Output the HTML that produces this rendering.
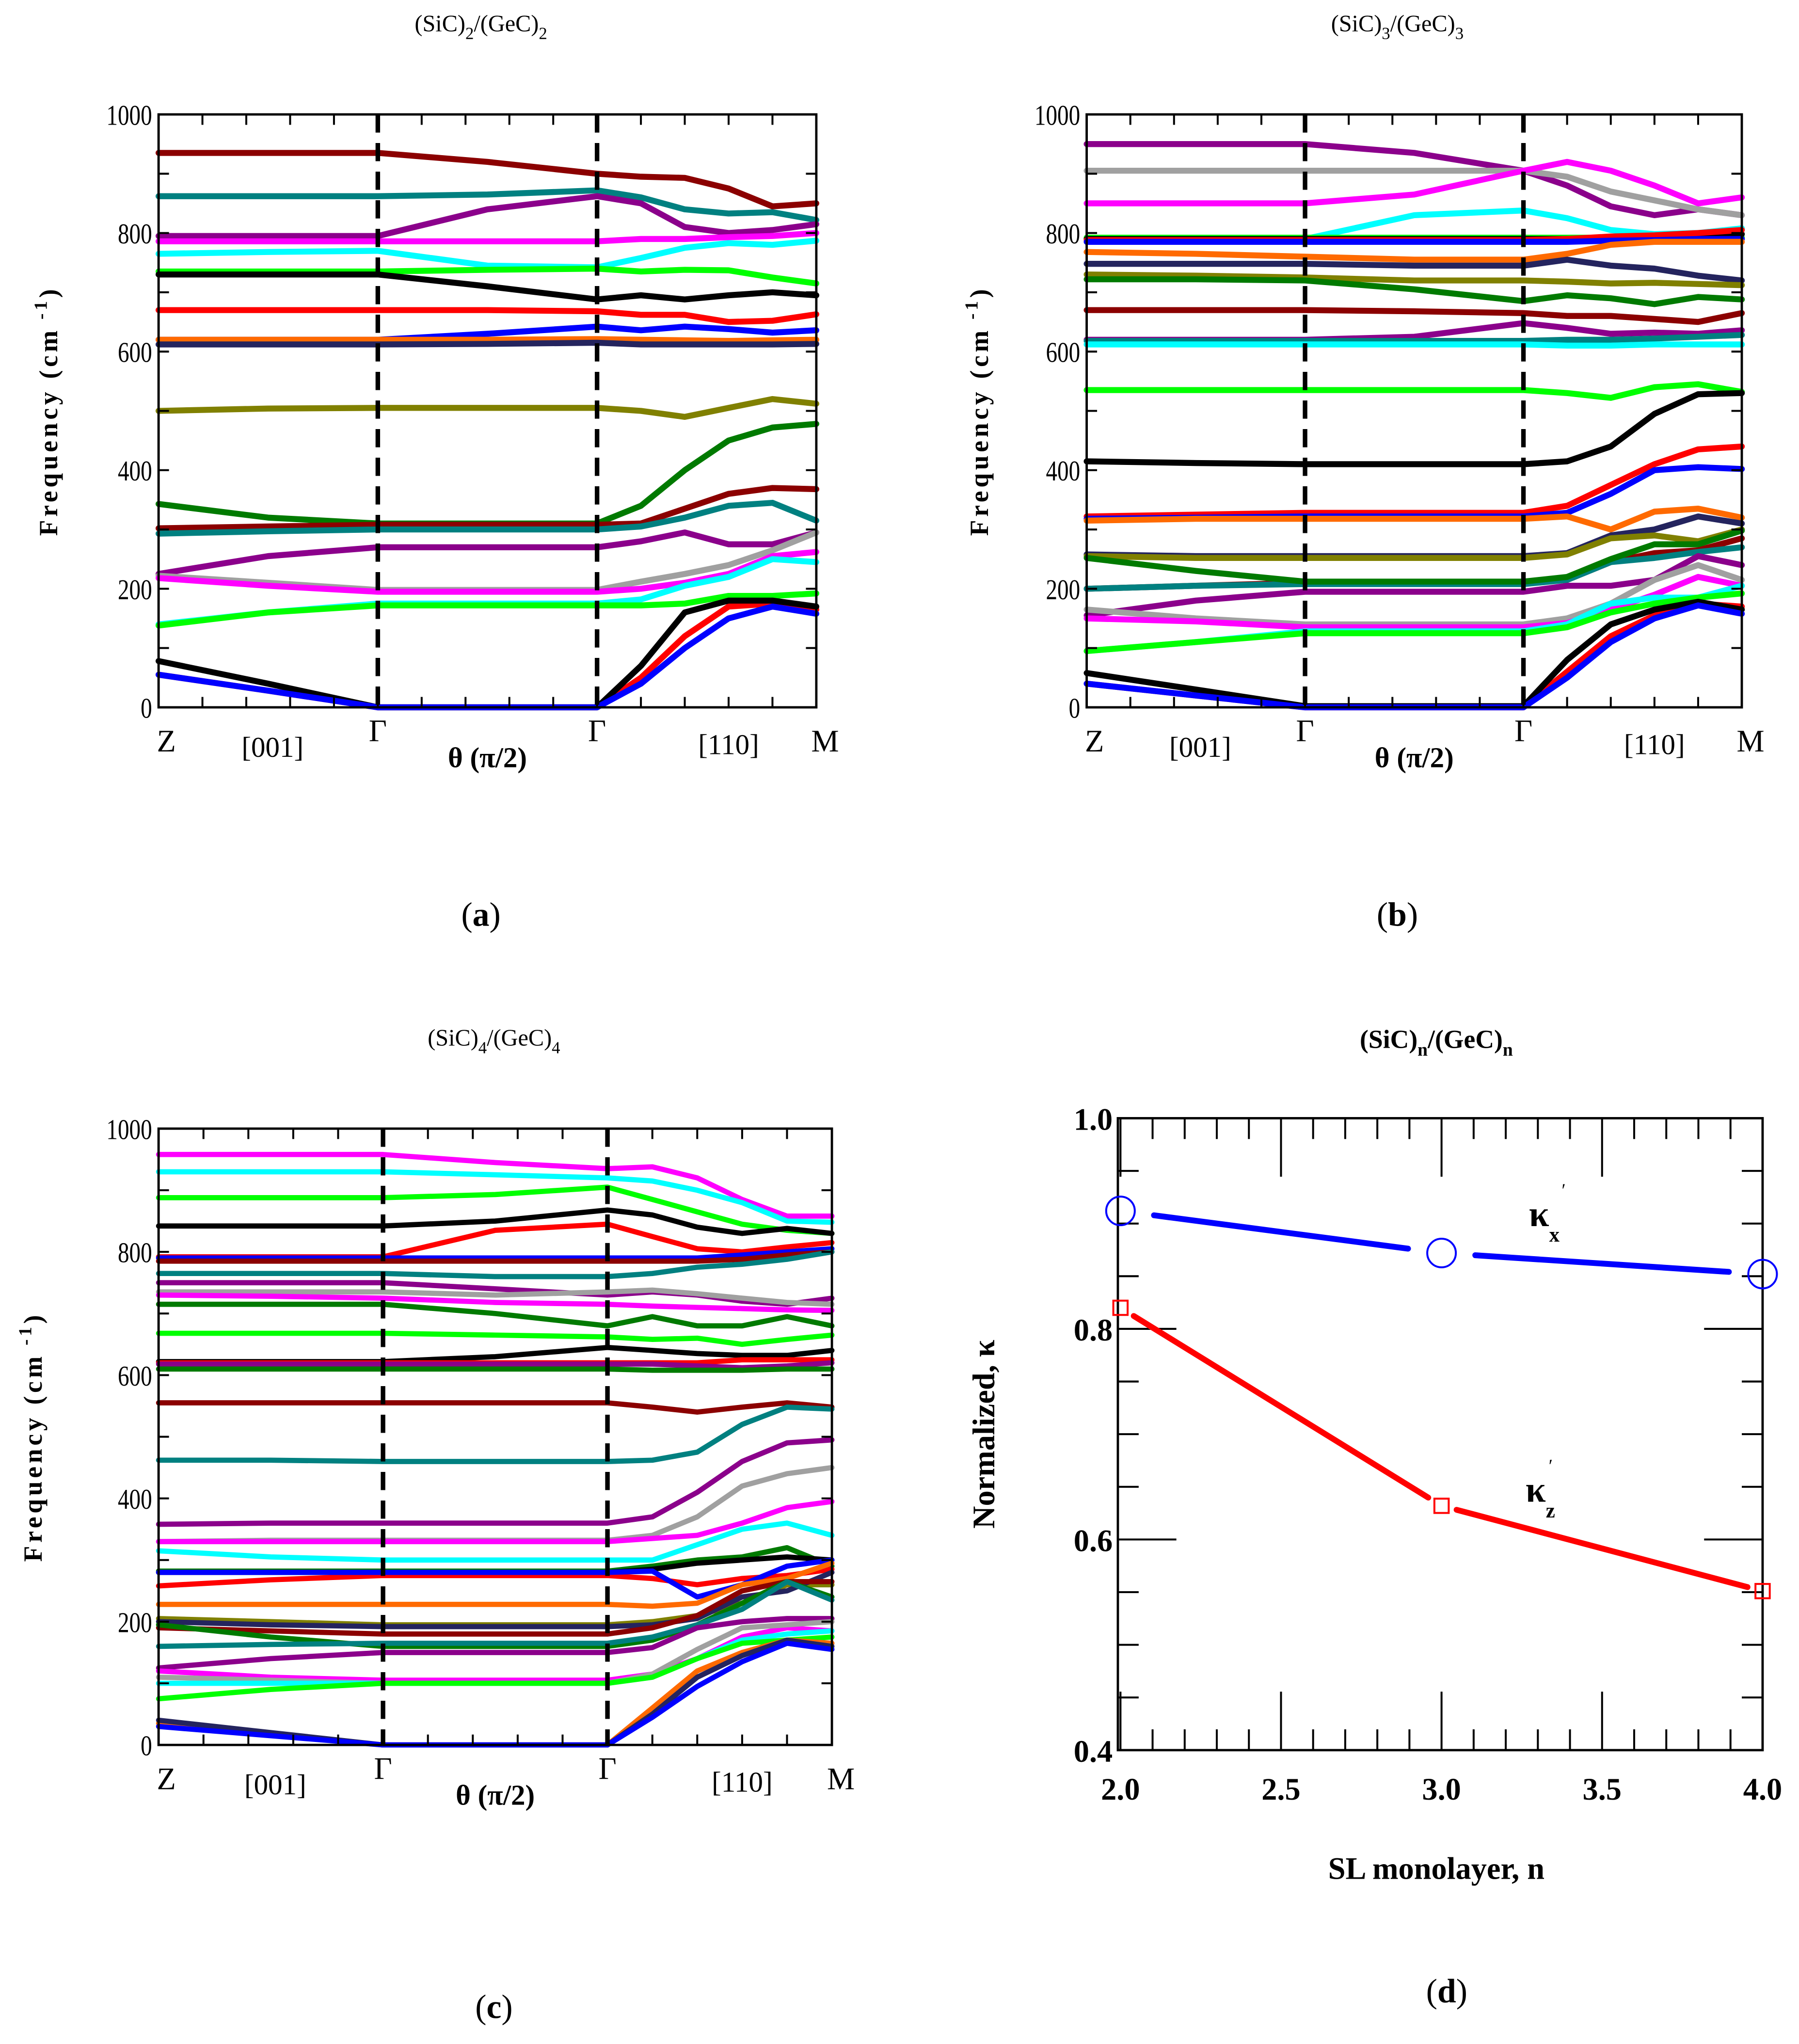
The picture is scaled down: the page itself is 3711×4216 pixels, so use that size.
<!DOCTYPE html>
<html><head><meta charset="utf-8">
<style>
html,body{margin:0;padding:0;background:#fff;}
svg{display:block;}
text{font-family:"Liberation Serif",serif;fill:#000;}
</style></head>
<body>
<svg id="fig" width="3711" height="4216" viewBox="0 0 1384 1572" preserveAspectRatio="none" xmlns="http://www.w3.org/2000/svg">
<rect width="1384" height="1572" fill="#fff"/>
</svg>
<script>
// shared sample positions along path (0..1 Z-Γ, 1..2 θ, 2..3 Γ-M)
const tSamples = [0,0.5,1,1.5,2,2.2,2.4,2.6,2.8,3];
const C = {dr:'#8b0000',tl:'#008080',pu:'#8b008b',mg:'#ff00ff',cy:'#00ffff',gr:'#00ff00',bk:'#000',rd:'#ff0000',bl:'#0000ff',or:'#ff6a00',nv:'#24245e',ol:'#808000',dg:'#007a00',gy:'#a0a0a0'};

const bandsA = [
 ['dr',[935,935,935,920,900,895,893,875,845,850]],
 ['tl',[862,862,862,865,872,860,840,833,835,822]],
 ['pu',[795,795,795,840,862,850,810,800,805,815]],
 ['mg',[786,786,786,786,786,790,790,793,795,800]],
 ['cy',[765,768,770,745,742,758,775,783,780,787]],
 ['gr',[735,735,735,738,740,735,738,737,725,715]],
 ['bk',[730,730,730,710,688,695,688,695,700,695]],
 ['rd',[670,670,670,670,668,662,662,650,652,663]],
 ['bl',[620,620,620,630,642,636,642,638,632,636]],
 ['or',[620,620,620,620,621,620,619,618,619,620]],
 ['nv',[612,612,612,613,615,612,612,612,612,613]],
 ['ol',[500,504,505,505,505,500,490,505,520,512]],
 ['dg',[343,320,310,310,310,340,400,450,472,478]],
 ['dr',[302,305,308,308,308,310,335,360,370,368]],
 ['tl',[293,297,300,300,300,305,320,340,345,315]],
 ['pu',[225,255,270,270,270,280,295,275,275,295]],
 ['gy',[222,210,198,198,198,212,225,240,265,295]],
 ['mg',[218,205,195,195,195,200,210,225,255,262]],
 ['cy',[140,160,175,175,175,182,205,220,250,245]],
 ['gr',[138,160,172,172,172,172,175,188,188,192]],
 ['rd',[55,28,0,0,0,50,120,170,175,165]],
 ['bk',[78,40,0,0,0,70,160,180,180,170]],
 ['bl',[55,28,0,0,0,40,100,150,170,158]]
];
const bandsB = [
 ['pu',[950,950,950,935,905,880,845,830,840,830]],
 ['gy',[905,905,905,905,905,895,870,855,840,830]],
 ['mg',[850,850,850,865,905,920,905,880,850,860]],
 ['cy',[790,790,790,830,838,825,805,798,800,808]],
 ['gr',[792,792,792,792,792,792,792,792,792,792]],
 ['bk',[790,790,790,790,790,790,792,794,796,798]],
 ['rd',[788,788,788,788,788,790,794,796,800,805]],
 ['bl',[785,785,785,785,785,785,787,788,790,790]],
 ['or',[768,765,760,755,755,765,780,785,785,785]],
 ['nv',[748,748,748,745,745,755,745,740,728,720]],
 ['ol',[730,728,725,720,720,718,715,716,714,712]],
 ['dg',[722,722,720,705,685,695,690,680,692,688]],
 ['dr',[670,670,670,668,665,660,660,655,650,665]],
 ['pu',[620,620,620,625,648,640,630,632,630,636]],
 ['tl',[618,618,618,618,618,620,620,622,625,628]],
 ['cy',[612,612,612,612,612,610,610,612,612,612]],
 ['gr',[535,535,535,535,535,530,522,540,545,532]],
 ['bk',[415,412,410,410,410,415,440,495,528,530]],
 ['rd',[322,325,328,328,328,340,375,410,435,440]],
 ['bl',[318,320,322,322,322,328,360,400,405,402]],
 ['or',[315,318,318,318,318,322,300,330,335,320]],
 ['nv',[258,255,255,255,255,260,290,300,322,310]],
 ['ol',[255,252,252,252,252,258,285,290,280,300]],
 ['dr',[200,205,210,210,210,215,245,260,265,285]],
 ['tl',[200,205,208,208,208,215,245,252,262,270]],
 ['dg',[252,230,212,212,212,220,250,275,275,298]],
 ['pu',[155,180,195,195,195,205,205,215,255,240]],
 ['gy',[165,150,140,140,140,150,175,215,240,215]],
 ['mg',[150,145,135,135,135,142,165,190,220,205]],
 ['cy',[95,110,128,128,128,140,175,185,185,205]],
 ['gr',[95,110,125,125,125,135,160,175,185,192]],
 ['rd',[40,20,0,0,0,60,120,155,175,170]],
 ['bk',[58,30,2,2,2,80,140,165,178,165]],
 ['bl',[40,20,0,0,0,50,110,150,172,158]]
];
const bandsC = [
 ['mg',[958,958,958,945,935,938,920,885,858,858]],
 ['cy',[930,930,930,925,920,915,900,880,850,848]],
 ['gr',[888,888,888,893,905,885,865,845,835,830]],
 ['bk',[842,842,842,850,868,860,840,830,838,830]],
 ['rd',[792,792,792,835,845,825,805,800,808,815]],
 ['bl',[790,790,790,790,790,790,790,795,800,805]],
 ['dr',[785,785,785,785,785,785,785,788,795,800]],
 ['tl',[765,765,765,760,760,765,775,780,788,800]],
 ['pu',[750,750,750,740,730,735,730,720,715,725]],
 ['gy',[735,735,735,730,735,738,732,725,718,715]],
 ['mg',[730,728,725,718,715,712,710,708,706,705]],
 ['dg',[715,715,715,700,680,695,680,680,695,680]],
 ['gr',[668,668,668,665,662,658,660,650,658,665]],
 ['bk',[622,622,622,630,645,640,635,632,632,640]],
 ['rd',[620,620,620,620,620,620,620,625,625,625]],
 ['pu',[618,618,618,618,618,618,615,612,615,620]],
 ['dg',[610,610,610,610,610,608,608,608,610,610]],
 ['dr',[555,555,555,555,555,548,540,548,555,548]],
 ['tl',[462,462,460,460,460,462,475,520,548,545]],
 ['pu',[358,360,360,360,360,370,410,460,490,495]],
 ['gy',[330,332,332,332,332,340,370,420,440,450]],
 ['mg',[330,330,330,330,330,335,340,360,385,395]],
 ['cy',[315,305,300,300,300,300,325,350,360,340]],
 ['dg',[282,282,282,282,282,290,300,305,320,290]],
 ['bk',[280,280,280,280,280,285,295,300,305,300]],
 ['rd',[258,268,275,275,275,270,260,270,275,285]],
 ['bl',[280,280,280,280,280,282,240,260,290,300]],
 ['or',[228,228,228,228,228,225,230,260,270,295]],
 ['ol',[205,200,195,195,195,200,210,230,260,260]],
 ['nv',[200,195,192,192,192,195,205,240,250,280]],
 ['dr',[190,185,180,180,180,190,210,250,265,265]],
 ['dg',[195,175,160,160,160,170,195,230,265,240]],
 ['tl',[160,163,165,165,165,175,195,220,265,235]],
 ['pu',[125,140,150,150,150,158,190,200,205,205]],
 ['mg',[120,110,105,105,105,115,140,175,190,185]],
 ['gy',[110,105,100,100,100,115,155,190,195,200]],
 ['cy',[100,100,100,100,100,110,140,170,180,185]],
 ['gr',[75,90,100,100,100,110,140,165,170,175]],
 ['or',[35,18,0,0,0,60,120,150,170,165]],
 ['nv',[40,20,0,0,0,50,110,145,170,160]],
 ['bl',[30,15,0,0,0,45,95,135,165,155]]
];
const yTicksFreq = [0,200,400,600,800,1000];
const nValues = [2.0,3.0,4.0];
const kappaX = [0.912,0.872,0.852];
const kappaZ = [0.820,0.632,0.551];
const xTicksN = ['2.0','2.5','3.0','3.5','4.0'];
const yTicksK = ['0.4','0.6','0.8','1.0'];

const svg = document.getElementById('fig');
const NS='http://www.w3.org/2000/svg';
function mk(tag, attrs, parent){const e=document.createElementNS(NS,tag);for(const k in attrs)e.setAttribute(k,attrs[k]);(parent||svg).appendChild(e);return e;}
function txt(x,y,s,size,opts,parent){const e=mk('text',Object.assign({x:x,y:y,'font-size':size,'text-anchor':'middle'},opts||{}),parent);e.textContent=s;return e;}

function dispersion(p){
  const g=mk('g',{});
  
  
  const X=t=>p.x0+(p.x1-p.x0)*t/3, Y=v=>p.y1-(p.y1-p.y0)*v/1000;
  p.bands.forEach((b,i)=>{
    const pts=b[1].map((v,j)=>X(tSamples[j]).toFixed(1)+','+Y(v).toFixed(1)).join(' ');
    const l=mk('polyline',{points:pts,fill:'none',stroke:C[b[0]],'stroke-width':p.lw,'stroke-linejoin':'round','stroke-linecap':'round'},g);
    
    
  });
  [1,2].forEach(t=>{const l=mk('line',{x1:X(t),x2:X(t),y1:p.y0,y2:p.y1,stroke:'#000','stroke-width':3.5,'stroke-dasharray':'14,8'},g);
    
    });
  const fr=mk('rect',{x:p.x0,y:p.y0,width:p.x1-p.x0,height:p.y1-p.y0,fill:'none',stroke:'#000','stroke-width':1.8},g);
  
  
  for(let i=1;i<15;i++){const x=p.x0+(p.x1-p.x0)*i/15;
    mk('line',{x1:x,x2:x,y1:p.y1,y2:p.y1-8,stroke:'#000','stroke-width':1.5},g);
    mk('line',{x1:x,x2:x,y1:p.y0,y2:p.y0+8,stroke:'#000','stroke-width':1.5},g);}
  for(let v=100;v<1000;v+=100){const y=Y(v);
    mk('line',{x1:p.x0,x2:p.x0+8,y1:y,y2:y,stroke:'#000','stroke-width':1.5},g);
    mk('line',{x1:p.x1,x2:p.x1-8,y1:y,y2:y,stroke:'#000','stroke-width':1.5},g);}
  yTicksFreq.forEach(v=>{const t=txt(p.x0-5,Y(v)+8,String(v),22,{'text-anchor':'end',transform:`translate(${p.x0-5},0) scale(0.8,1) translate(${-(p.x0-5)},0)`},g);
    
    });
  const yl=txt(0,0,'Frequency (cm',20,{'font-weight':'bold','letter-spacing':'2.5',transform:`translate(${p.ylx},${(p.y0+p.y1)/2}) rotate(-90)`},g);
  const sup=mk('tspan',{dy:-8,'font-size':14},yl);sup.textContent=' -1';
  const cl=mk('tspan',{dy:8},yl);cl.textContent=')';
  
  
  const ly=p.y1+34;
  [['Z',0,ly,24],['[001]',0.52,ly+4,22],['Γ',1,ly-8,24],['Γ',2,ly-8,24],['[110]',2.6,ly+2,22],['M',3.04,ly,24]].forEach(a=>{
    const t=txt(X(a[1])+(a[0]==='Z'?6:0),a[2],a[0],a[3],{},g);
    
    });
  const th=txt(X(1.5),ly+12,'θ (π/2)',22,{'font-weight':'bold'},g);
  
  
  const ti=txt(p.tx,p.ty,'(SiC)',18,{},g);
  const s1=mk('tspan',{dy:6,'font-size':13},ti);s1.textContent=p.n;
  const s2=mk('tspan',{dy:-6},ti);s2.textContent='/(GeC)';
  const s3=mk('tspan',{dy:6,'font-size':13},ti);s3.textContent=p.n;
  
  
  const pl=txt(p.tx,p.ly,'',26,{},g);
  const a1=mk('tspan',{},pl);a1.textContent='(';
  const a2=mk('tspan',{'font-weight':'bold'},pl);a2.textContent=p.letter;
  const a3=mk('tspan',{},pl);a3.textContent=')';
  
  
}
dispersion({name:'panel-a',bands:bandsA,x0:122,x1:628,y0:88,y1:544,lw:4.6,ylx:44,tx:370,ty:24,ly:712,n:'2',letter:'a'});
dispersion({name:'panel-b',bands:bandsB,x0:836,x1:1340,y0:88,y1:544,lw:4.6,ylx:760,tx:1075,ty:24,ly:712,n:'3',letter:'b'});
dispersion({name:'panel-c',bands:bandsC,x0:122,x1:640,y0:868,y1:1342,lw:4,ylx:32,tx:380,ty:804,ly:1552,n:'4',letter:'c'});

(function(){
  const g=mk('g',{});
  
  
  const x0=860,x1=1356,y0=860,y1=1346;
  const X=n=>862+(n-2)*(1356-862)/2, Y=k=>y1-(k-0.4)*(y1-y0)/0.6;
  const fr=mk('rect',{x:x0,y:y0,width:x1-x0,height:y1-y0,fill:'none',stroke:'#000','stroke-width':1.8},g);
  
  
  for(let i=0;i<=20;i++){const n=2+i*0.1;const x=X(n);const maj=(i%5===0);const L=maj?45:16;
    mk('line',{x1:x,x2:x,y1:y1,y2:y1-L,stroke:'#000','stroke-width':1.5},g);
    mk('line',{x1:x,x2:x,y1:y0,y2:y0+L,stroke:'#000','stroke-width':1.5},g);}
  for(let i=0;i<=12;i++){const k=0.4+i*0.05;const y=Y(k);const maj=(i%4===0);const L=maj?45:16;
    mk('line',{x1:x0,x2:x0+L,y1:y,y2:y,stroke:'#000','stroke-width':1.5},g);
    mk('line',{x1:x1,x2:x1-L,y1:y,y2:y,stroke:'#000','stroke-width':1.5},g);}
  xTicksN.forEach(s=>{const t=txt(X(parseFloat(s)),1384,s,24,{'font-weight':'bold'},g);
    
    });
  yTicksK.forEach(s=>{const t=txt(x0-4,Y(parseFloat(s))+9,s,24,{'font-weight':'bold','text-anchor':'end'},g);
    
    });
  function series(vals,color,marker,nm){
    for(let i=0;i<vals.length-1;i++){
      const ax=X(nValues[i]),ay=Y(vals[i]),bx=X(nValues[i+1]),by=Y(vals[i+1]);
      const dx=bx-ax,dy=by-ay,L=Math.hypot(dx,dy),gap=marker==='c'?26:12;
      const l=mk('line',{x1:ax+dx*gap/L,y1:ay+dy*gap/L,x2:bx-dx*gap/L,y2:by-dy*gap/L,stroke:color,'stroke-width':4.5,'stroke-linecap':'round'},g);
      
      
    }
    vals.forEach((v,i)=>{
      const m=marker==='c'?mk('circle',{cx:X(nValues[i]),cy:Y(v),r:11,fill:'none',stroke:color,'stroke-width':1.5},g)
        :mk('rect',{x:X(nValues[i])-5.5,y:Y(v)-5.5,width:11,height:11,fill:'none',stroke:color,'stroke-width':1.5},g);
      
      
    });
  }
  series(kappaX,'#0000ff','c','kappa-x');
  series(kappaZ,'#ff0000','s','kappa-z');
  const kx=txt(1188,943,'κ',28,{'font-weight':'bold'},g);
  const kxs=mk('tspan',{dy:12,'font-size':16,'font-weight':'bold'},kx);kxs.textContent='x';
  
  
  txt(1203,920,'\u02b9',14,{},g);
  const kz=txt(1185,1155,'κ',28,{'font-weight':'bold'},g);
  const kzs=mk('tspan',{dy:12,'font-size':16,'font-weight':'bold'},kz);kzs.textContent='z';
  
  
  txt(1193,1132,'\u02b9',14,{},g);
  const yl=txt(0,0,'Normalized, κ',24,{'font-weight':'bold',transform:'translate(765,1103) rotate(-90)'},g);
  
  
  const xl=txt(1105,1445,'SL monolayer, n',24,{'font-weight':'bold'},g);
  
  
  const ti=txt(1105,806,'(SiC)',20,{'font-weight':'bold'},g);
  const s1=mk('tspan',{dy:6,'font-size':14},ti);s1.textContent='n';
  const s2=mk('tspan',{dy:-6},ti);s2.textContent='/(GeC)';
  const s3=mk('tspan',{dy:6,'font-size':14},ti);s3.textContent='n';
  
  
  const pl=txt(1113,1540,'',26,{},g);
  const a1=mk('tspan',{},pl);a1.textContent='(';
  const a2=mk('tspan',{'font-weight':'bold'},pl);a2.textContent='d';
  const a3=mk('tspan',{},pl);a3.textContent=')';
  
  
})();
</script>
</body></html>
